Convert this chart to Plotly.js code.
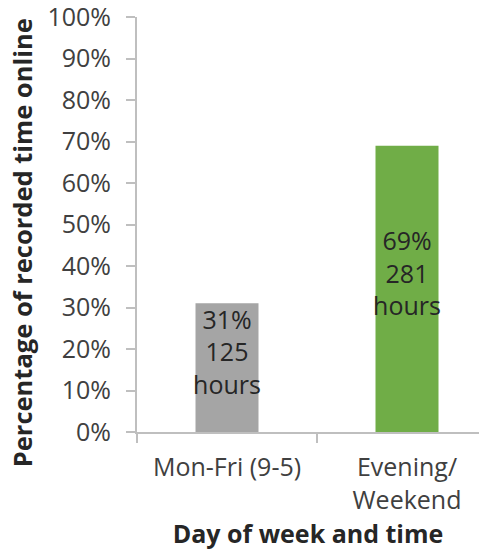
<!DOCTYPE html>
<html>
<head>
<meta charset="utf-8">
<script src="https://cdn.plot.ly/plotly-3.0.1.min.js"></script>
<style>html,body{margin:0;padding:0;background:#fff;}</style>
</head>
<body>
<div id="chart" style="width:479px;height:550px;"></div>
<script>
const categories = ["Mon-Fri (9-5)", "Evening/<br>Weekend"];
const shares = [0.31, 0.69];
const hours = [125, 281];
const barColors = ["#a5a5a5", "#70ad47"];
const yTicks = [0, 0.1, 0.2, 0.3, 0.4, 0.5, 0.6, 0.7, 0.8, 0.9, 1.0];
const yTickText = ["0%", "10%", "20%", "30%", "40%", "50%", "60%", "70%", "80%", "90%", "100%"];

const labels = shares.map((s, i) => Math.round(s * 100) + "%<br>" + hours[i] + "<br>hours<br> ");

const trace = {
  type: "bar",
  x: categories,
  y: shares,
  width: 0.35,
  marker: { color: barColors },
  text: labels,
  textposition: "inside",
  insidetextanchor: "middle",
  constraintext: "none",
  textfont: { family: "Open Sans, sans-serif", size: 25, color: "#262626" },
  hoverinfo: "none"
};

const layout = {
  width: 479,
  height: 550,
  margin: { l: 137, r: 0, t: 17, b: 118 },
  paper_bgcolor: "#ffffff",
  plot_bgcolor: "#ffffff",
  showlegend: false,
  font: { family: "Open Sans, sans-serif", color: "#404040" },
  xaxis: {
    type: "category",
    range: [-0.5, 1.4],
    showline: true,
    linecolor: "#bfbfbf",
    linewidth: 2,
    ticks: "outside",
    tickson: "boundaries",
    ticklen: 9,
    tickcolor: "#bfbfbf",
    tickwidth: 2,
    showgrid: false,
    zeroline: false,
    tickfont: { size: 25, color: "#404040" },
    ticklabelstandoff: 12,
    ticklabeloverflow: "allow",
    title: {
      text: "<b>Day of week and time</b>",
      font: { size: 25, color: "#262626" },
      standoff: 0
    },
    automargin: false
  },
  yaxis: {
    range: [0, 1.0001],
    tickmode: "array",
    tickvals: yTicks,
    ticktext: yTickText,
    showline: true,
    linecolor: "#bfbfbf",
    linewidth: 2,
    ticks: "outside",
    ticklen: 9,
    tickcolor: "#bfbfbf",
    tickwidth: 2,
    showgrid: false,
    zeroline: false,
    tickfont: { size: 25, color: "#404040" },
    ticklabelstandoff: 10,
    ticklabeloverflow: "allow",
    automargin: false
  },
  annotations: [{
    text: "<b>Percentage of recorded time online</b>",
    textangle: -90,
    xref: "paper", yref: "paper",
    x: -0.336, y: 0.455,
    xanchor: "center", yanchor: "middle",
    showarrow: false,
    font: { family: "Open Sans, sans-serif", size: 25.5, color: "#262626" }
  }]
};

Plotly.newPlot("chart", [trace], layout, { displayModeBar: false, staticPlot: true });
</script>
</body>
</html>
